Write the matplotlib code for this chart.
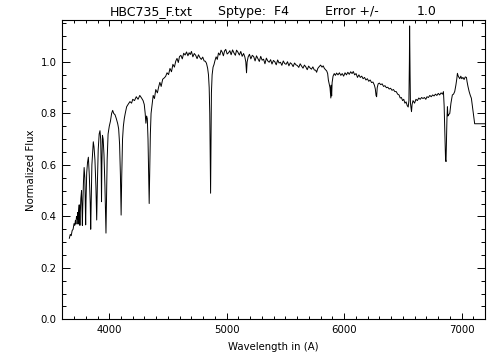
import matplotlib
matplotlib.use("Agg")
import matplotlib.pyplot as plt
from matplotlib.ticker import MultipleLocator, FormatStrFormatter

# spectrum (wavelength in A, normalized flux)
wave = [
    3660, 3668, 3676, 3684, 3692, 3700, 3706, 3712, 3716, 3721, 3727, 3731, 3734, 3738,
    3744, 3748, 3750, 3753, 3758, 3764, 3768, 3771, 3774, 3780, 3786, 3792, 3796, 3799,
    3802, 3808, 3815, 3822, 3830, 3838, 3842, 3846, 3852, 3858, 3864, 3870, 3878, 3886,
    3893, 3899, 3906, 3914, 3921, 3927, 3931, 3934, 3937, 3942, 3948, 3955, 3963, 3969,
    3972, 3975, 3982, 3990, 4000, 4010, 4020, 4029, 4038, 4049, 4060, 4072, 4080, 4088,
    4095, 4101, 4106, 4113, 4120, 4128, 4136, 4148, 4160, 4176, 4190, 4200, 4215, 4230,
    4245, 4260, 4275, 4288, 4298, 4306, 4312, 4318, 4324, 4330, 4336, 4340, 4344, 4350,
    4356, 4363, 4374, 4385, 4396, 4410, 4420, 4431, 4442, 4455, 4468, 4480, 4492, 4505,
    4517, 4530, 4542, 4555, 4566, 4577, 4588, 4598, 4610, 4622, 4634, 4646, 4658, 4670,
    4680, 4690, 4700, 4712, 4724, 4736, 4748, 4760, 4772, 4784, 4796, 4808, 4818, 4828,
    4838, 4845, 4851, 4856, 4860, 4863, 4866, 4870, 4876, 4884, 4892, 4900, 4910, 4920,
    4930, 4942, 4952, 4962, 4972, 4982, 4992, 5004, 5016, 5027, 5038, 5050, 5062, 5074,
    5084, 5096, 5108, 5120, 5132, 5144, 5155, 5163, 5169, 5174, 5183, 5194, 5206, 5218,
    5230, 5242, 5254, 5266, 5278, 5290, 5302, 5314, 5326, 5338, 5350, 5362, 5374, 5386,
    5398, 5410, 5422, 5434, 5446, 5458, 5470, 5482, 5494, 5506, 5518, 5530, 5542, 5554,
    5566, 5578, 5590, 5602, 5614, 5626, 5638, 5650, 5662, 5674, 5686, 5698, 5710, 5722,
    5734, 5746, 5758, 5766, 5776, 5788, 5800, 5812, 5822, 5832, 5842, 5852, 5860, 5866,
    5880, 5887, 5890, 5894, 5898, 5906, 5916, 5926, 5936, 5948, 5960, 5972, 5984, 5996,
    6008, 6020, 6032, 6044, 6056, 6068, 6078, 6090, 6102, 6114, 6126, 6138, 6150, 6162,
    6174, 6186, 6198, 6210, 6222, 6234, 6246, 6258, 6266, 6272, 6277, 6282, 6290, 6300,
    6312, 6324, 6336, 6348, 6360, 6372, 6384, 6396, 6408, 6420, 6432, 6444, 6456, 6468,
    6478, 6488, 6498, 6508, 6518, 6528, 6538, 6546, 6552, 6556, 6558, 6560, 6562, 6565,
    6570, 6574, 6579, 6587, 6600, 6612, 6624, 6636, 6648, 6660, 6672, 6684, 6696, 6706,
    6718, 6730, 6742, 6754, 6766, 6778, 6790, 6802, 6814, 6826, 6838, 6846, 6852, 6858,
    6864, 6868, 6872, 6876, 6880, 6884, 6890, 6900, 6910, 6922, 6932, 6942, 6952, 6960,
    6965, 6972, 6978, 6985, 6994, 7002, 7012, 7022, 7032, 7042, 7047, 7055, 7065, 7075,
    7084, 7095, 7104, 7112, 7200,
]
flux = [
    0.315, 0.330, 0.325, 0.345, 0.350, 0.372, 0.365, 0.385, 0.370, 0.400, 0.390, 0.415, 0.370, 0.420,
    0.445, 0.400, 0.365, 0.410, 0.470, 0.500, 0.420, 0.365, 0.430, 0.530, 0.590, 0.550, 0.450, 0.367,
    0.460, 0.570, 0.610, 0.630, 0.560, 0.450, 0.350, 0.460, 0.600, 0.645, 0.690, 0.670, 0.620, 0.520,
    0.386, 0.530, 0.660, 0.720, 0.733, 0.700, 0.600, 0.457, 0.600, 0.715, 0.700, 0.640, 0.520, 0.400,
    0.335, 0.420, 0.620, 0.720, 0.750, 0.770, 0.800, 0.812, 0.800, 0.795, 0.780, 0.760, 0.740, 0.680,
    0.560, 0.405, 0.550, 0.700, 0.750, 0.780, 0.800, 0.826, 0.835, 0.846, 0.840, 0.855, 0.850, 0.865,
    0.855, 0.870, 0.860, 0.850, 0.835, 0.800, 0.762, 0.790, 0.780, 0.700, 0.560, 0.450, 0.560, 0.720,
    0.800, 0.826, 0.870, 0.858, 0.893, 0.880, 0.902, 0.921, 0.905, 0.933, 0.938, 0.944, 0.958, 0.951,
    0.975, 0.962, 0.991, 0.980, 1.003, 1.014, 0.998, 1.021, 1.026, 1.012, 1.034, 1.027, 1.039, 1.024,
    1.036, 1.029, 1.041, 1.020, 1.033, 1.026, 1.013, 1.028, 1.017, 1.010, 1.019, 1.004, 1.003, 0.995,
    0.975, 0.950, 0.900, 0.800, 0.620, 0.490, 0.650, 0.880, 0.950, 0.980, 0.990, 1.005, 1.020, 1.010,
    1.035, 1.027, 1.046, 1.038, 1.024, 1.043, 1.049, 1.031, 1.036, 1.044, 1.028, 1.047, 1.035, 1.026,
    1.046, 1.038, 1.027, 1.041, 1.022, 1.033, 1.019, 1.000, 0.958, 1.000, 1.020, 1.030, 1.012, 1.026,
    1.021, 1.004, 1.024, 1.013, 1.002, 1.022, 1.007, 1.011, 0.993, 1.015, 1.004, 0.999, 1.009, 0.992,
    1.006, 1.001, 0.989, 1.008, 0.996, 0.999, 0.987, 1.004, 0.994, 0.991, 1.001, 0.985, 0.997, 0.992,
    0.982, 0.996, 0.989, 0.986, 0.979, 0.993, 0.984, 0.976, 0.988, 0.981, 0.970, 0.984, 0.977, 0.972,
    0.981, 0.969, 0.968, 0.960, 0.975, 0.982, 0.988, 0.980, 0.985, 0.975, 0.970, 0.965, 0.955, 0.930,
    0.900, 0.860, 0.910, 0.868, 0.920, 0.945, 0.955, 0.948, 0.957, 0.950, 0.958, 0.948, 0.955, 0.945,
    0.958, 0.950, 0.960, 0.952, 0.962, 0.955, 0.963, 0.950, 0.955, 0.940, 0.950, 0.940, 0.945, 0.935,
    0.940, 0.930, 0.935, 0.925, 0.930, 0.920, 0.922, 0.910, 0.895, 0.870, 0.865, 0.900, 0.915, 0.918,
    0.912, 0.915, 0.905, 0.908, 0.900, 0.902, 0.895, 0.898, 0.890, 0.893, 0.885, 0.885, 0.875, 0.872,
    0.860, 0.862, 0.850, 0.855, 0.840, 0.845, 0.830, 0.825, 0.850, 1.000, 1.140, 1.020, 0.950, 0.840,
    0.820, 0.807, 0.835, 0.850, 0.840, 0.855, 0.850, 0.860, 0.855, 0.862, 0.858, 0.862, 0.855, 0.865,
    0.862, 0.870, 0.865, 0.872, 0.868, 0.875, 0.870, 0.878, 0.872, 0.880, 0.875, 0.885, 0.830, 0.720,
    0.620, 0.613, 0.700, 0.780, 0.826, 0.790, 0.795, 0.800, 0.840, 0.872, 0.875, 0.885, 0.910, 0.935,
    0.956, 0.945, 0.940, 0.935, 0.945, 0.935, 0.940, 0.932, 0.942, 0.940, 0.924, 0.905, 0.885, 0.870,
    0.859, 0.820, 0.790, 0.760, 0.760,
]

star = "HBC735_F.txt"
sptype = "F4"
err = 1.0

fig = plt.figure(figsize=(5.04, 3.6), dpi=100)
ax = fig.add_axes([0.1236, 0.113, 0.8387, 0.8306])

ax.plot(wave, flux, color="black", lw=0.7)

ax.set_xlim(3600, 7200)
ax.set_ylim(0.0, 1.162)
ax.xaxis.set_major_locator(MultipleLocator(1000))
ax.xaxis.set_minor_locator(MultipleLocator(100))
ax.yaxis.set_major_locator(MultipleLocator(0.2))
ax.yaxis.set_minor_locator(MultipleLocator(0.05))
ax.yaxis.set_major_formatter(FormatStrFormatter("%.1f"))

# IDL-like inward ticks on all four sides
ax.tick_params(axis="both", which="both", direction="in", top=True, right=True,
               colors="black", labelsize=7.3, width=0.7)
ax.tick_params(axis="x", which="major", length=4.3, pad=4)
ax.tick_params(axis="x", which="minor", length=2.2)
ax.tick_params(axis="y", which="major", length=6.1, pad=4)
ax.tick_params(axis="y", which="minor", length=3.0)
for s in ax.spines.values():
    s.set_linewidth(0.8)

ax.set_xlabel("Wavelength in (A)", fontsize=7.3, labelpad=5)
ax.set_ylabel("Normalized Flux", fontsize=7.3, labelpad=3)

# title pieces, spaced like the IDL header
ty = 1 - 15 / 360
fig.text(110 / 504, ty, star, fontsize=9, va="baseline", ha="left")
fig.text(218 / 504, ty, "Sptype:  " + sptype, fontsize=9, va="baseline", ha="left")
fig.text(325 / 504, ty, "Error +/-", fontsize=9, va="baseline", ha="left")
fig.text(417 / 504, ty, f"{err:.1f}", fontsize=9, va="baseline", ha="left")

fig.savefig("out.png", dpi=100)
